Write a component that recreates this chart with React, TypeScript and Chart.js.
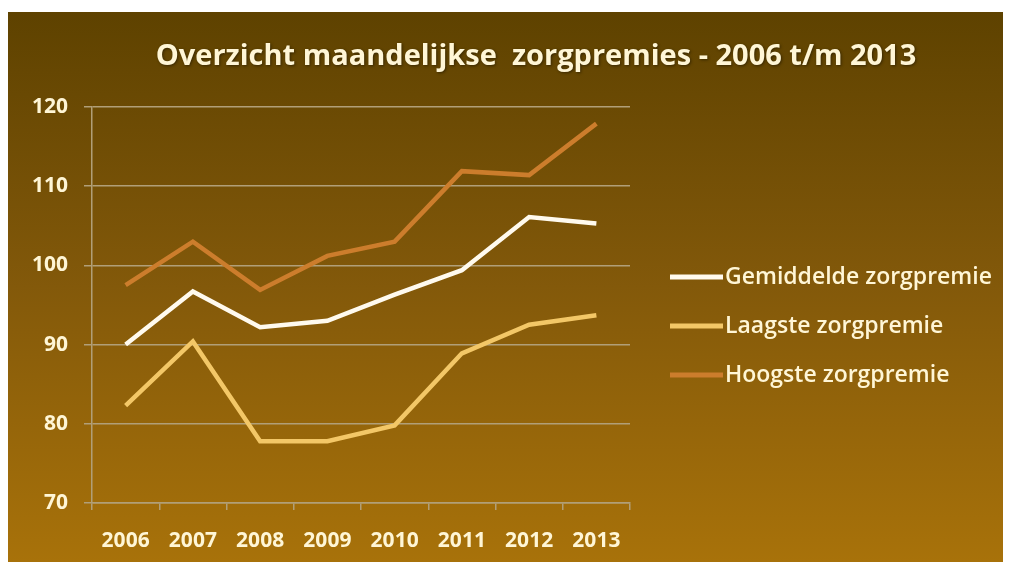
import React, { useEffect, useRef } from "react";
import { Chart, registerables } from "chart.js";

Chart.register(...registerables);

const years = ["2006", "2007", "2008", "2009", "2010", "2011", "2012", "2013"];
const gemiddelde = [90.0, 96.7, 92.2, 93.0, 96.3, 99.4, 106.1, 105.3];
const laagste = [82.3, 90.4, 77.8, 77.8, 79.8, 88.9, 92.5, 93.7];
const hoogste = [97.5, 103.0, 96.9, 101.2, 103.0, 111.9, 111.4, 117.9];
const seriesNames = ["Gemiddelde zorgpremie", "Laagste zorgpremie", "Hoogste zorgpremie"];
const yMin = 70;
const yMax = 120;
const yStep = 10;
const titleText = "Overzicht maandelijkse  zorgpremies - 2006 t/m 2013";

const FONT = "'Open Sans', 'DejaVu Sans', sans-serif";
const TEXT = "#fff6d6";
const GRID = "#b19f78";

const titlePlugin = {
  id: "customTitle",
  afterDraw(chart: any) {
    const ctx = chart.ctx;
    ctx.save();
    ctx.font = `bold 29px ${FONT}`;
    ctx.fillStyle = TEXT;
    ctx.textAlign = "center";
    ctx.textBaseline = "middle";
    ctx.shadowColor = "rgba(0,0,0,0.45)";
    ctx.shadowBlur = 3;
    ctx.shadowOffsetX = 1;
    ctx.shadowOffsetY = 1;
    ctx.fillText(titleText, 528, 45);
    ctx.restore();
  },
};

const legendPlugin = {
  id: "customLegend",
  afterDraw(chart: any) {
    const ctx = chart.ctx;
    const ds = chart.data.datasets;
    ctx.save();
    ctx.font = `600 23px ${FONT}`;
    ctx.textBaseline = "middle";
    ctx.textAlign = "left";
    ds.forEach((d: any, i: number) => {
      const y = 265 + i * 49;
      ctx.strokeStyle = d.borderColor;
      ctx.lineWidth = 5;
      ctx.lineCap = "butt";
      ctx.beginPath();
      ctx.moveTo(662, y);
      ctx.lineTo(715, y);
      ctx.stroke();
      ctx.fillStyle = TEXT;
      ctx.fillText(d.label, 717, y);
    });
    ctx.restore();
  },
};

export default function App() {
  const ref = useRef<HTMLCanvasElement | null>(null);
  useEffect(() => {
    if (!ref.current) return;
    const chart = new Chart(ref.current, {
      type: "line",
      data: {
        labels: years,
        datasets: [
          { label: seriesNames[0], data: gemiddelde, borderColor: "#fffaee", borderWidth: 4.5, pointRadius: 0, tension: 0 },
          { label: seriesNames[1], data: laagste, borderColor: "#f3c767", borderWidth: 4.5, pointRadius: 0, tension: 0 },
          { label: seriesNames[2], data: hoogste, borderColor: "#cc7d2c", borderWidth: 4.5, pointRadius: 0, tension: 0 },
        ],
      },
      options: {
        animation: false,
        responsive: true,
        maintainAspectRatio: false,
        layout: { padding: { top: 95, right: 381, bottom: 0, left: 0 } },
        plugins: {
          legend: { display: false },
          title: { display: false },
          tooltip: { enabled: false },
        },
        scales: {
          x: {
            offset: true,
            afterFit(scale: any) {
              scale.height = 59;
            },
            grid: { offset: true, drawOnChartArea: false, drawTicks: true, tickLength: 7, color: GRID, lineWidth: 1.5 },
            border: { display: true, color: GRID, width: 1.5 },
            ticks: { color: TEXT, font: { family: FONT, size: 21, weight: "bold" }, padding: 18, maxRotation: 0 },
          },
          y: {
            min: yMin,
            max: yMax,
            afterFit(scale: any) {
              scale.width = 84;
            },
            grid: { color: GRID, lineWidth: 1.5, drawTicks: true, tickLength: 8 },
            border: { display: true, color: GRID, width: 1.5 },
            ticks: { stepSize: yStep, color: TEXT, font: { family: FONT, size: 21, weight: "bold" }, padding: 16 },
          },
        },
      },
      plugins: [titlePlugin, legendPlugin],
    });
    return () => chart.destroy();
  }, []);

  return (
    <div style={{ paddingTop: 4 }}>
      <div
        style={{
          width: 1003,
          height: 550,
          position: "relative",
          background: "linear-gradient(to bottom, #5e4200 0%, #83590a 50%, #a8720a 100%)",
        }}
      >
        <canvas ref={ref} />
      </div>
    </div>
  );
}
